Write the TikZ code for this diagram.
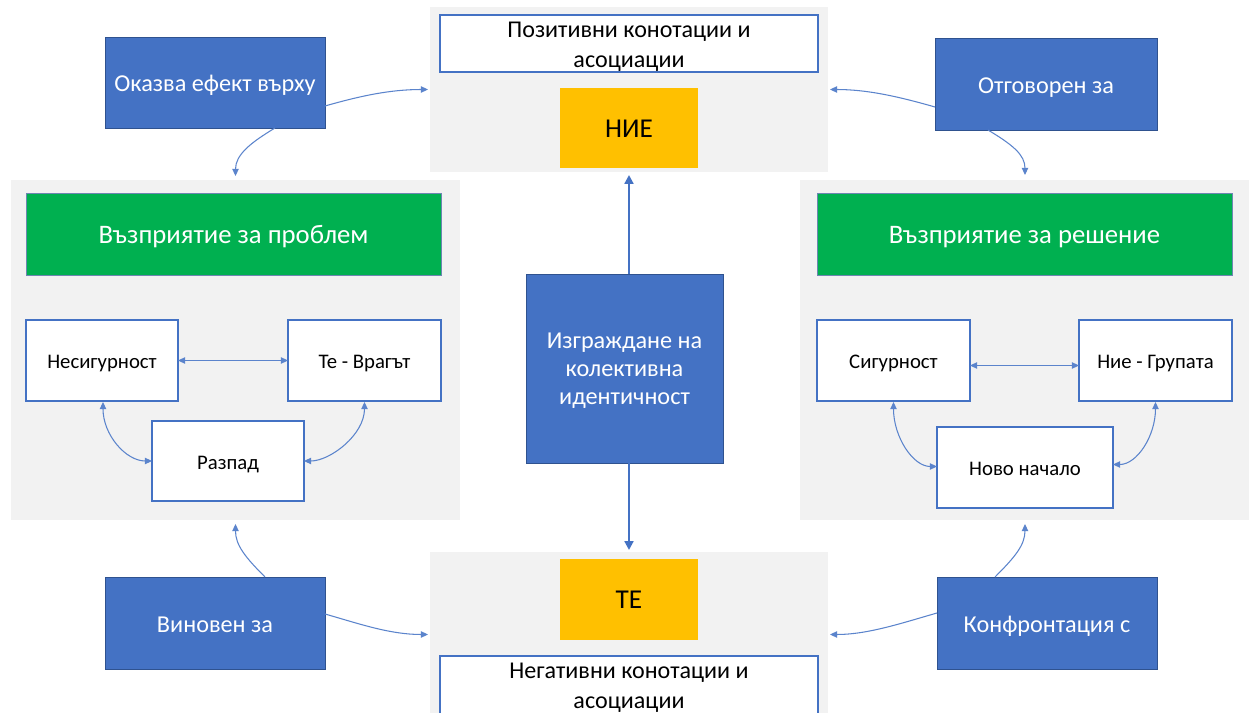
\documentclass[tikz,border=0pt]{standalone}
\usepackage{fontspec}
\setmainfont{Carlito}
\usetikzlibrary{arrows.meta,calc}
\definecolor{ublue}{HTML}{4472C4}
\definecolor{ubluedark}{HTML}{2F528F}
\definecolor{ugreen}{HTML}{00B050}
\definecolor{uyellow}{HTML}{FFC000}
\definecolor{upanel}{HTML}{F2F2F2}
\definecolor{uline}{HTML}{5B84CC}
\tikzset{
  sz/.style 2 args={minimum width=#1*0.02cm, minimum height=#2*0.02cm, inner sep=0pt, outer sep=0pt},
  panel/.style={fill=upanel, draw=none},
  bluebox/.style={fill=ublue, draw=ubluedark, line width=0.4pt, text=white, font=\fontsize{13.8}{16}\selectfont, text height=10.8pt, text depth=0pt},
  bluefill/.style={fill=ublue, draw=ubluedark, line width=0.4pt},
  bluetext/.style={text=white, font=\fontsize{13.8}{16}\selectfont, align=center, inner sep=0pt},
  greenbox/.style={fill=ugreen, draw=ubluedark!70, line width=0.4pt, text=white, font=\fontsize{15.2}{18}\selectfont, text height=10.4pt, text depth=0pt},
  whitebox/.style={fill=white, draw=ublue, line width=0.6pt, text=black, font=\fontsize{11.8}{14}\selectfont, text height=9.4pt, text depth=0pt},
  labelbox/.style={fill=white, draw=ublue, line width=0.6pt},
  labeltext/.style={text=black, font=\fontsize{13.7}{17}\selectfont, align=center, inner sep=0pt},
  yellowbox/.style={fill=uyellow, draw=none, text=black, font=\fontsize{15.5}{18}\selectfont, text height=10.6pt, text depth=0pt},
  thin arrow/.style={draw=uline, line width=0.6pt, -{Triangle[length=4pt,width=3.6pt]}},
  both arrow/.style={draw=uline, line width=0.6pt, {Triangle[length=4pt,width=3.6pt]}-{Triangle[length=4pt,width=3.6pt]}},
  thick arrow/.style={draw=ublue, line width=1.2pt, -{Triangle[length=5pt,width=5pt]}}
}
\begin{document}
\begin{tikzpicture}[x=0.02cm,y=-0.02cm]
\useasboundingbox (0,0) rectangle (1249,713);
\clip (0,0) rectangle (1249,713);
\fill[white] (0,0) rectangle (1249,713);

% panels
\node[panel, sz={398}{165}] (tp) at (629,89.5) {};
\node[panel, sz={398}{165}] (bp) at (629,634.5) {};
\node[panel, sz={449}{340}] (lp) at (235.5,350) {};
\node[panel, sz={450}{340}] (rp) at (1025,350) {};

% top / bottom centre
\node[labelbox, sz={378}{57}] (pos) at (629,43.5) {};
\node[labeltext] (pos-t) at ($(pos.center)+(0,3)$) {Позитивни конотации и\\асоциации};
\node[yellowbox, sz={138}{80}] (nie) at (629,128) {НИЕ};
\node[yellowbox, sz={138}{81}] (te) at (629,599.5) {ТЕ};
\node[labelbox, sz={378}{58}] (neg) at (629,685) {};
\node[labeltext] (neg-t) at ($(neg.center)+(0,3)$) {Негативни конотации и\\асоциации};

% blue boxes
\node[bluebox, sz={220}{91}] (ok) at (215,82.5) {Оказва ефект върху};
\node[bluebox, sz={222}{92}] (ot) at (1046,84) {Отговорен за};
\node[bluebox, sz={220}{92}] (vi) at (215,623) {Виновен за};
\node[bluebox, sz={220}{92}] (ko) at (1047,623) {Конфронтация с};
\node[bluefill, sz={197}{189}] (c) at (624.5,368.5) {};
\node[bluetext] (c-t) at ($(c.center)+(0,2.5)$) {Изграждане на\\колективна\\идентичност};

% green headers
\node[greenbox, sz={415}{82}] (gl) at (233.5,234) {Възприятие за проблем};
\node[greenbox, sz={415}{82}] (gr) at (1024.5,234) {Възприятие за решение};

% inner white boxes
\node[whitebox, sz={152}{81}] (nes) at (102,360.5) {Несигурност};
\node[whitebox, sz={153}{81}] (vr) at (364.5,360.5) {Те - Врагът};
\node[whitebox, sz={152}{80}] (raz) at (228,461) {Разпад};
\node[whitebox, sz={153}{81}] (sig) at (893.5,360.5) {Сигурност};
\node[whitebox, sz={153}{81}] (gru) at (1155.5,360.5) {Ние - Групата};
\node[whitebox, sz={176}{81}] (nov) at (1025,467.5) {Ново начало};

% centre arrows
\draw[thick arrow, shorten >=0.06cm] (c.north -| tp.south) -- (tp.south);
\draw[thick arrow, shorten >=0.04cm] (c.south -| bp.north) -- (bp.north);

% outer curved arrows
\draw[thin arrow, shorten >=0.04cm] ($(ok.east)+(0,23.5)$) .. controls +(35,-10) and +(-40,0) .. (tp.west);
\draw[thin arrow, shorten >=0.08cm] ($(ok.south)+(60,0)$) .. controls +(-25,15) and +(0,-25) .. (lp.north);
\draw[thin arrow, shorten >=0.04cm] ($(ot.west)+(0,23)$) .. controls +(-35,-10) and +(40,0) .. (tp.east);
\draw[thin arrow, shorten >=0.1cm] ($(ot.south)+(-58,0)$) .. controls +(25,15) and +(0,-25) .. (rp.north);
\draw[thin arrow, shorten >=0.08cm] ($(vi.north)+(50,0)$) .. controls +(-20,-20) and +(0,25) .. (lp.south);
\draw[thin arrow, shorten >=0.04cm] ($(vi.east)+(0,-9)$) .. controls +(35,10) and +(-40,0) .. (bp.west);
\draw[thin arrow, shorten >=0.08cm] ($(ko.north)+(-52,0)$) .. controls +(20,-20) and +(0,25) .. (rp.south);
\draw[thin arrow, shorten >=0.04cm] ($(ko.west)+(0,-10)$) .. controls +(-35,10) and +(40,0) .. (bp.east);

% inner arrows left
\draw[both arrow] (nes.east) -- (vr.west);
\draw[both arrow] ($(nes.south)+(1,1)$) .. controls +(0,33) and +(-26,0) .. (raz.west);
\draw[both arrow] ($(vr.south)+(0,1)$) .. controls +(0,33) and +(26,0) .. (raz.east);
% inner arrows right
\draw[both arrow] ($(sig.east)+(0,5)$) -- ($(gru.west)+(0,5)$);
\draw[both arrow] ($(sig.south)+(0,1)$) .. controls +(0,35) and +(-24,0) .. ($(nov.west)+(0,-1)$);
\draw[both arrow] ($(gru.south)+(0,1)$) .. controls +(0,34) and +(24,0) .. ($(nov.east)+(0,-3)$);
\end{tikzpicture}
\end{document}
